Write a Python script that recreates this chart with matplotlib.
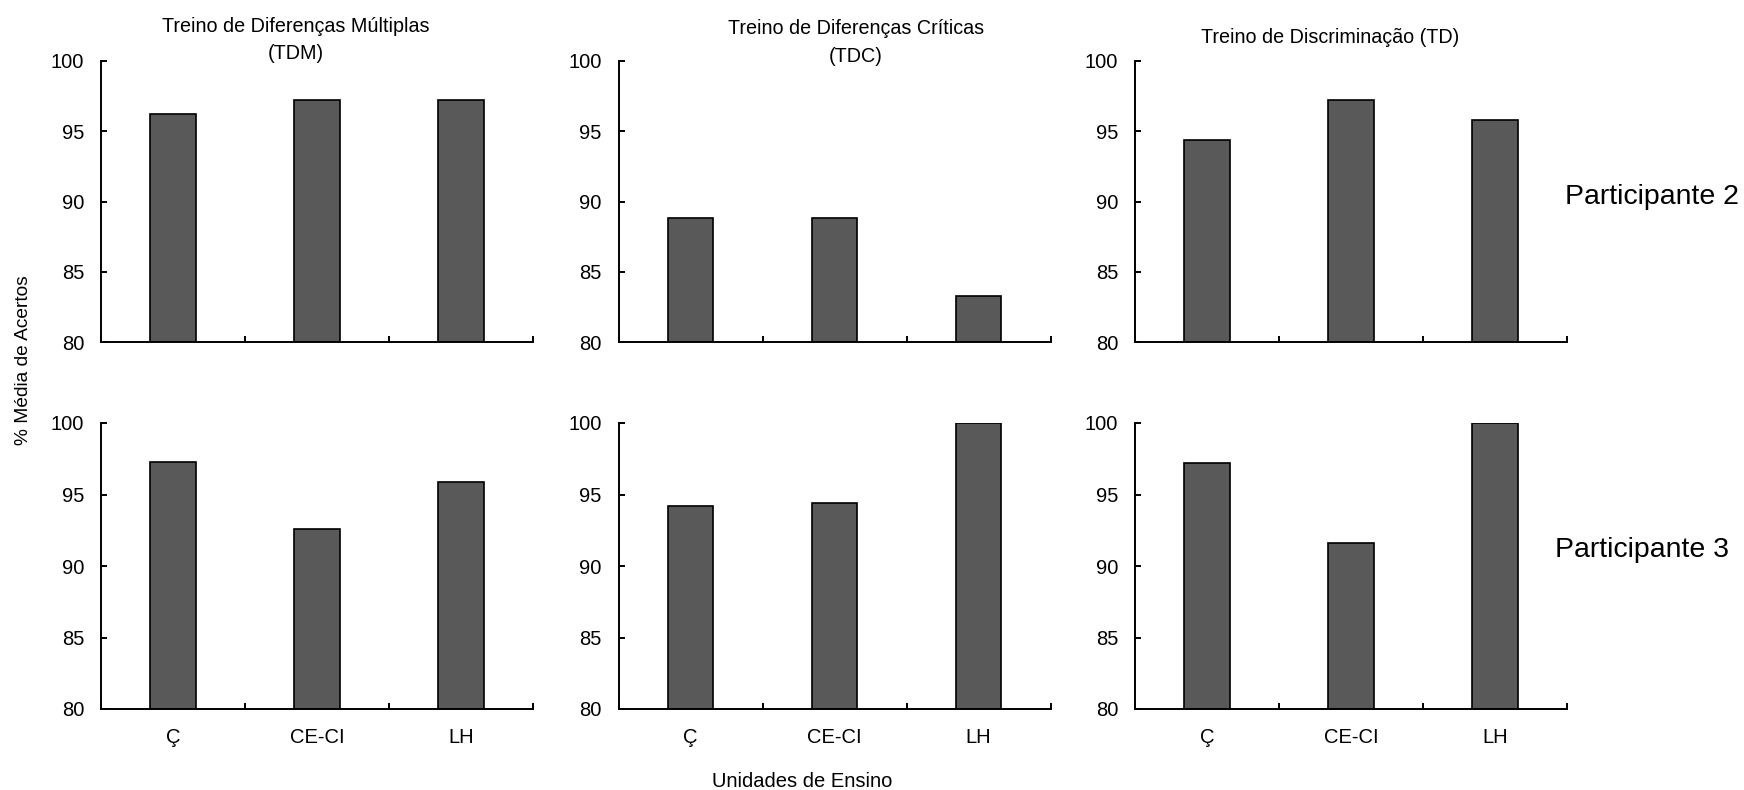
import matplotlib
matplotlib.use("Agg")
import matplotlib.pyplot as plt
import matplotlib.font_manager as fm

# dados
unidades = ['Ç', 'CE-CI', 'LH']
tdm_p2 = [96.2, 97.2, 97.2]
tdc_p2 = [88.8, 88.8, 83.3]
td_p2 = [94.4, 97.2, 95.8]
tdm_p3 = [97.3, 92.6, 95.9]
tdc_p3 = [94.2, 94.4, 100.0]
td_p3 = [97.2, 91.6, 100.0]

titulos = [('Treino de Diferenças Múltiplas', '(TDM)'),
           ('Treino de Diferenças Críticas', '(TDC)'),
           ('Treino de Discriminação (TD)', None)]
participantes = ['Participante 2', 'Participante 3']

W, H = 1744, 790
names = set(f.name for f in fm.fontManager.ttflist)
if 'Liberation Sans Narrow' in names:
    chartFont = 'Liberation Sans Narrow'
    tickSize = 16.5
    titleSize = 16.5
else:
    chartFont = 'Liberation Sans'
    tickSize = 14.5
    titleSize = 14.2
plainFont = 'Liberation Sans'

fig = plt.figure(figsize=(W / 100, H / 100), dpi=100)

lefts = [101, 618.5, 1135]
rows = [(61, 342), (423, 709)]   # topo, base em pixels
axw = 432

dados = [[tdm_p2, tdc_p2, td_p2], [tdm_p3, tdc_p3, td_p3]]
xs = list(range(len(unidades)))

for r, (top, bot) in enumerate(rows):
    for c, left in enumerate(lefts):
        ax = fig.add_axes([left / W, 1 - bot / H, axw / W, (bot - top) / H])
        ax.bar(xs, dados[r][c], width=0.315, color='#595959', edgecolor='black', linewidth=1.2)
        ax.set_xlim(-0.5, 2.5)
        ax.set_ylim(80, 100)
        ax.set_yticks([80, 85, 90, 95, 100])
        for s in ['top', 'right']:
            ax.spines[s].set_visible(False)
        for s in ['left', 'bottom']:
            ax.spines[s].set_linewidth(1.4)
        ax.tick_params(axis='y', direction='in', length=4.3, width=1.4, pad=12,
                       labelsize=tickSize)
        ax.set_xticks([-0.5, 0.5, 1.5, 2.5], minor=True)
        ax.tick_params(axis='x', which='minor', direction='in', length=4.3, width=1.4)
        ax.set_xticks(xs)
        ax.tick_params(axis='x', which='major', length=0, pad=14, labelsize=tickSize)
        if r == 0:
            ax.set_xticklabels([])
        else:
            ax.set_xticklabels(unidades)
        for lab in ax.get_xticklabels() + ax.get_yticklabels():
            lab.set_family(chartFont)

# titulos das colunas
fig.text(296 / W, 1 - 31.7 / H, titulos[0][0], ha='center', va='baseline', fontsize=titleSize, family=chartFont)
fig.text(296 / W, 1 - 59.3 / H, titulos[0][1], ha='center', va='baseline', fontsize=titleSize, family=chartFont)
fig.text(856 / W, 1 - 34.3 / H, titulos[1][0], ha='center', va='baseline', fontsize=titleSize, family=chartFont)
fig.text(856 / W, 1 - 62.5 / H, titulos[1][1], ha='center', va='baseline', fontsize=titleSize, family=chartFont)
fig.text(1330 / W, 1 - 42.7 / H, titulos[2][0], ha='center', va='baseline', fontsize=titleSize, family=chartFont)

fig.text(1565 / W, 1 - 204 / H, participantes[0], ha='left', va='baseline', fontsize=20.5, family=plainFont)
fig.text(1555 / W, 1 - 557 / H, participantes[1], ha='left', va='baseline', fontsize=20.5, family=plainFont)

fig.text(24 / W, 1 - 360 / H, '% Média de Acertos', rotation=90, ha='center', va='center',
         fontsize=13.8, family=plainFont)
fig.text(802 / W, 1 - 787 / H, 'Unidades de Ensino', ha='center', va='baseline',
         fontsize=14.5, family=plainFont)

fig.savefig('out.png', dpi=100)
